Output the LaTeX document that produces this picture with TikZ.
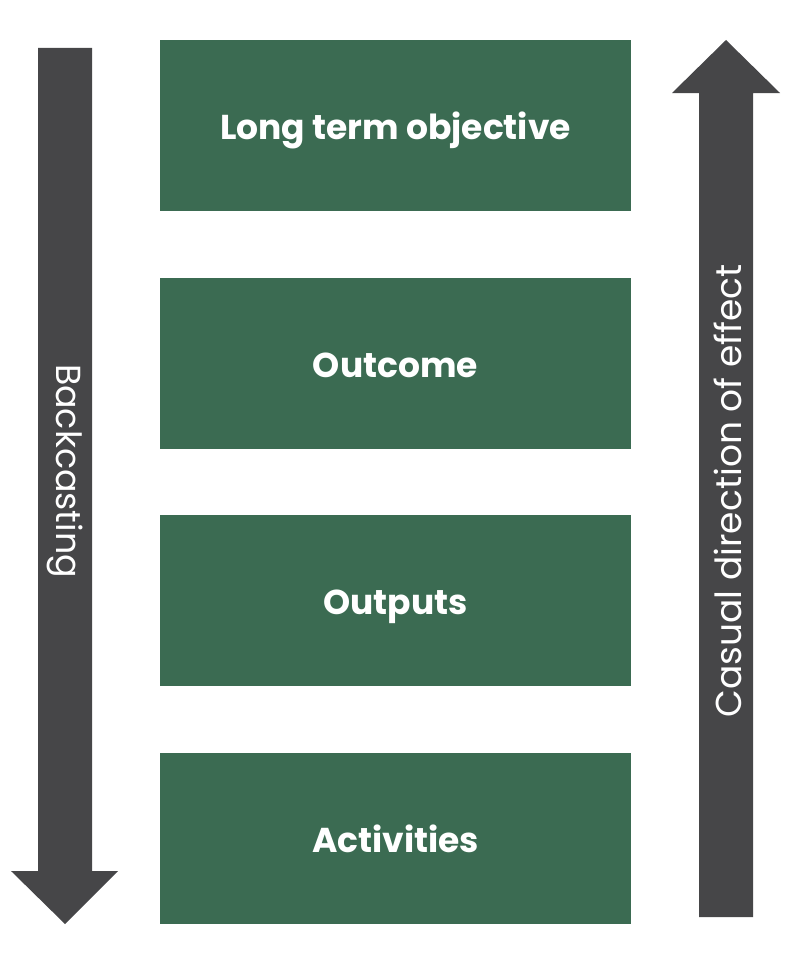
\documentclass[tikz,border=0pt]{standalone}
\usepackage{fontspec}
\setmainfont{Poppins}
\definecolor{boxgreen}{HTML}{3B6B52}
\definecolor{arrowgray}{HTML}{464648}
\begin{document}
\begin{tikzpicture}[x=1pt,y=-1pt,
  stage/.style={fill=boxgreen,draw=none,minimum width=471pt,minimum height=171pt,
    inner sep=0pt,text=white,text height=32pt,text depth=4pt,
    font=\fontsize{34.5}{40}\selectfont\bfseries},
  sidetext/.style={text=white,inner sep=0pt}]
\useasboundingbox (0,0) rectangle (798,966);
\node[stage] (lto) at (395.5,125.5) {Long term objective};
\node[stage] (outc) at (395.5,363.5) {Outcome};
\node[stage] (outp) at (395.5,600.5) {Outputs};
\node[stage] (act) at (395.5,838.5) {Activities};
\fill[arrowgray] (38,48) -- (92,48) -- (92,871) -- (118,871) -- (65,924) -- (11,871) -- (38,871) -- cycle;
\fill[arrowgray] (699,917) -- (753,917) -- (753,93) -- (780,93) -- (726,40) -- (672,93) -- (699,93) -- cycle;
\node[sidetext,rotate=-90,font=\fontsize{34.8}{40}\selectfont] (back) at (65,471) {Backcasting};
\node[sidetext,rotate=90,font=\fontsize{36}{42}\selectfont] (caus) at (728,491) {Casual direction of effect};
\end{tikzpicture}
\end{document}
